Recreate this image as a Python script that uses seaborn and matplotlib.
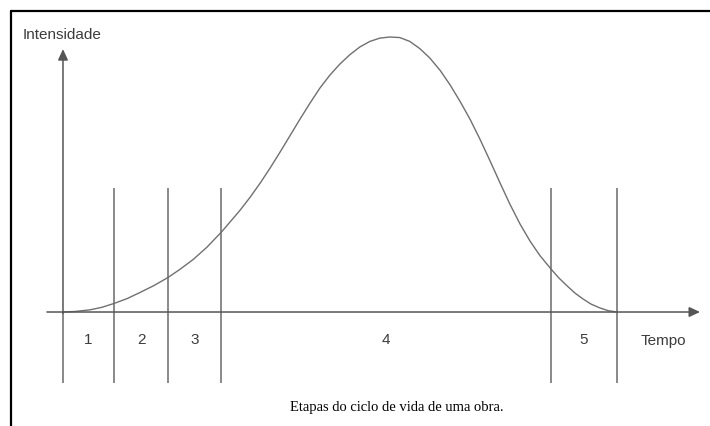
import matplotlib
matplotlib.use('Agg')
import matplotlib.pyplot as plt
import seaborn as sns
from matplotlib.lines import Line2D

sns.set_style("white")
plt.rcParams['font.family'] = ['Liberation Sans', 'DejaVu Sans']

# Stage boundaries on the time axis (0 = start, 100 = end of life)
stage_bounds = [0, 9.2, 19.0, 28.5, 88.1, 100]
stage_labels = ['1', '2', '3', '4', '5']

# Intensity curve (peak = 100)
time = [0, 2.2, 4.9, 7.0, 9.2, 11.6, 13.9, 16.4, 19.0, 21.1, 23.5, 26.0,
        28.7, 32.0, 33.8, 35.6, 37.4, 39.2, 41.0, 42.8, 44.6, 46.4, 48.2,
        50.0, 51.8, 53.6, 55.4, 57.2, 59.0, 60.8, 62.6, 64.4, 66.2, 68.1,
        69.9, 71.7, 73.5, 75.3, 77.1, 78.9, 80.7, 82.5, 84.3, 86.1, 88.1,
        89.5, 91.0, 92.4, 93.9, 95.3, 96.9, 98.4, 100]
intensity = [0, 0.2, 0.8, 1.7, 3.1, 4.9, 7.1, 9.6, 12.6, 15.5, 19.1, 23.6,
             29.3, 37.1, 41.8, 46.9, 52.4, 58.2, 64.2, 70.2, 76.0, 81.5, 86.2,
             90.2, 93.6, 96.4, 98.4, 99.6, 100, 99.8, 98.4, 95.8, 92.4, 87.8,
             82.5, 76.5, 70.0, 62.7, 54.9, 46.9, 39.1, 32.0, 25.8, 20.5, 15.6,
             12.4, 9.5, 6.9, 4.7, 2.9, 1.5, 0.5, 0]

line_col = '#6a6a6a'
text_col = '#3c3c3c'

fig = plt.figure(figsize=(7.1, 4.27), dpi=100)
ax = fig.add_axes([0, 0, 1, 1])
ax.set_xlim(-11.37, 116.79)
ax.set_ylim(-41.45, 113.82)
ax.axis('off')

# curve
sns.lineplot(x=time, y=intensity, ax=ax, color='#707070', linewidth=1.0,
             estimator=None)

# stage separators
ax.vlines(stage_bounds[1:], -25.8, 45.1, color=line_col, linewidth=1.1)
ax.vlines(0, -25.8, 0, color=line_col, linewidth=1.1)

# axes with arrows
arrow = dict(arrowstyle='-|>,head_length=0.65,head_width=0.3', color='#555555',
             lw=1.1, shrinkA=0, shrinkB=0)
ax.annotate('', xy=(0, 95.6), xytext=(0, -0.5), arrowprops=arrow)
ax.annotate('', xy=(115.0, 0), xytext=(-2.9, 0), arrowprops=arrow)

# stage numbers centred in each stage
mids = [(a + b) / 2 for a, b in zip(stage_bounds[:-1], stage_bounds[1:])]
for m, lab in zip(mids, stage_labels):
    ax.text(m, -9.8, lab, ha='center', va='center', fontsize=11, color=text_col)

ax.text(108.3, -10.2, 'Tempo', ha='center', va='center', fontsize=11,
        color=text_col)
ax.text(-0.2, 101.1, 'Intensidade', ha='center', va='center', fontsize=11,
        color=text_col)
ax.text(60.2, -34.5, 'Etapas do ciclo de vida de uma obra.', ha='center',
        va='center', fontsize=10.5, color='black',
        family=['Liberation Serif', 'DejaVu Serif'])

# frame around the figure (left and top edges only)
fig.add_artist(Line2D([11 / 710, 11 / 710], [0, 1 - 12 / 427], color='black',
                      linewidth=1.6))
fig.add_artist(Line2D([11 / 710, 1], [1 - 12 / 427, 1 - 12 / 427],
                      color='black', linewidth=1.6))

fig.savefig('out.png', dpi=100)
